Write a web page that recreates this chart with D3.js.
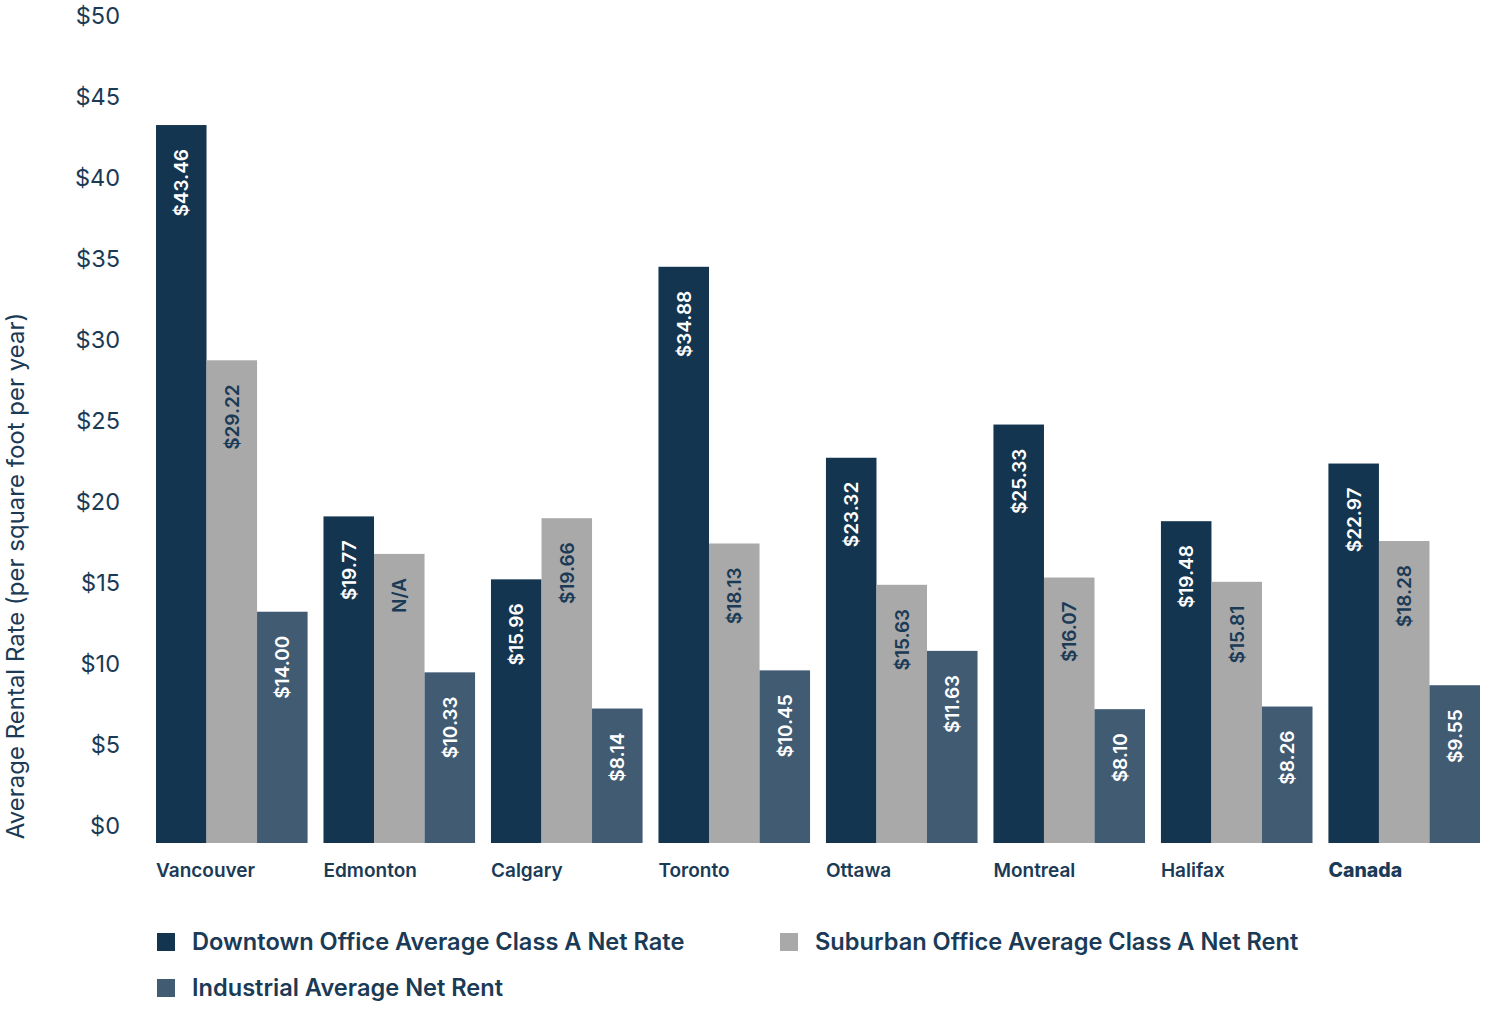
<!DOCTYPE html>
<html>
<head>
<meta charset="utf-8">
<script src="https://cdn.jsdelivr.net/npm/d3@7/dist/d3.min.js"></script>
<style>
  html, body { margin: 0; padding: 0; background: #ffffff; }
  svg { display: block; font-family: Inter, "Liberation Sans", Arial, sans-serif; }
</style>
</head>
<body>
<svg id="chart" width="1504" height="1017"></svg>
<script>
// ---- data ----
const cities = ["Vancouver", "Edmonton", "Calgary", "Toronto", "Ottawa", "Montreal", "Halifax", "Canada"];
const seriesNames = [
  "Downtown Office Average Class A Net Rate",
  "Suburban Office Average Class A Net Rent",
  "Industrial Average Net Rent"
];
const downtown   = [43.46, 19.77, 15.96, 34.88, 23.32, 25.33, 19.48, 22.97];
const suburban   = [29.22, 17.5, 19.66, 18.13, 15.63, 16.07, 15.81, 18.28]; // Edmonton bar drawn, value not available
const industrial = [14.00, 10.33, 8.14, 10.45, 11.63, 8.10, 8.26, 9.55];
const notAvailable = [{ series: 1, city: "Edmonton" }];
const yTicks = [0, 5, 10, 15, 20, 25, 30, 35, 40, 45, 50];
const yTitle = "Average Rental Rate (per square foot per year)";

const colors = ["#14354f", "#a9a9a9", "#415b73"];
const labelColors = ["#ffffff", "#1a3a56", "#ffffff"];
const textColor = "#1a3a56";

const seriesValues = [downtown, suburban, industrial];

// ---- scales ----
const svg = d3.select("#chart");
const x0 = d3.scaleBand().domain(cities).range([156, 1480]).paddingInner(0.095).paddingOuter(0);
const x1 = d3.scaleBand().domain(d3.range(seriesNames.length)).range([0, x0.bandwidth()]).padding(0);
const y = d3.scaleLinear().domain([0, 50]).range([843, 17]);
const yAxisScale = d3.scaleLinear().domain([0, 50]).range([826, 16]);

// ---- y axis (labels only) ----
const yAxis = svg.append("g")
  .attr("transform", "translate(120,0)")
  .call(d3.axisLeft(yAxisScale).tickValues(yTicks).tickFormat(d => "$" + d).tickSize(0).tickPadding(0));
yAxis.select(".domain").remove();
yAxis.selectAll("text")
  .attr("fill", textColor)
  .style("font-size", "23.5px")
  .style("font-weight", 400)
  .style("font-family", "Inter, 'Liberation Sans', Arial, sans-serif");

svg.append("text")
  .attr("transform", "translate(24,576) rotate(-90)")
  .attr("text-anchor", "middle")
  .attr("fill", textColor)
  .style("font-size", "24px")
  .style("font-weight", 400)
  .text(yTitle);

// ---- bars ----
const rows = [];
cities.forEach((c, ci) => {
  seriesValues.forEach((vals, si) => {
    const na = notAvailable.some(n => n.series === si && n.city === c);
    rows.push({ city: c, s: si, v: vals[ci], label: na ? "N/A" : "$" + d3.format(".2f")(vals[ci]) });
  });
});

const bars = svg.append("g");
bars.selectAll("rect").data(rows).join("rect")
  .attr("x", d => x0(d.city) + x1(d.s))
  .attr("y", d => y(d.v))
  .attr("width", x1.bandwidth())
  .attr("height", d => y(0) - y(d.v))
  .attr("fill", d => colors[d.s]);

bars.selectAll("text").data(rows).join("text")
  .attr("transform", d => `translate(${x0(d.city) + x1(d.s) + x1.bandwidth() / 2},${y(d.v) + 24}) rotate(-90)`)
  .attr("text-anchor", "end")
  .attr("dy", "0.36em")
  .attr("fill", d => labelColors[d.s])
  .style("font-size", "19px")
  .style("font-weight", 600)
  .text(d => d.label);

// ---- x labels ----
svg.append("g").selectAll("text").data(cities).join("text")
  .attr("x", d => x0(d))
  .attr("y", 877)
  .attr("fill", textColor)
  .style("font-size", d => d === "Canada" ? "19.5px" : "19px")
  .style("font-weight", d => d === "Canada" ? 800 : 600)
  .text(d => d);

// ---- legend ----
const legendPos = [
  { sx: 157, tx: 192, y: 942 },
  { sx: 780, tx: 815, y: 942 },
  { sx: 157, tx: 192, y: 988 }
];
const legend = svg.append("g").selectAll("g").data(seriesNames).join("g");
legend.append("rect")
  .attr("x", (d, i) => legendPos[i].sx)
  .attr("y", (d, i) => legendPos[i].y - 9)
  .attr("width", 18).attr("height", 18)
  .attr("fill", (d, i) => colors[i]);
legend.append("text")
  .attr("x", (d, i) => legendPos[i].tx)
  .attr("y", (d, i) => legendPos[i].y)
  .attr("dy", "0.35em")
  .attr("fill", textColor)
  .style("font-size", "23.6px")
  .style("font-weight", 600)
  .text(d => d);
</script>
</body>
</html>
